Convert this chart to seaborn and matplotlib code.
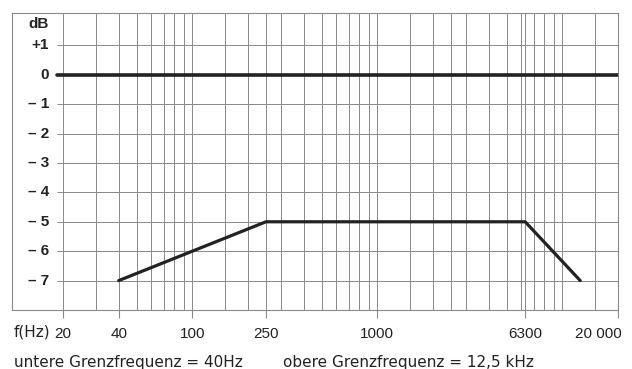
import matplotlib
matplotlib.use("Agg")
import matplotlib.pyplot as plt
import matplotlib.transforms as mtransforms
import seaborn as sns
import pandas as pd

# Frequency response (corner points)
freq_hz = [40, 250, 6300, 12500]
level_db = [-7, -5, -5, -7]

# y axis labels (dB)
y_ticks = [1, 0, -1, -2, -3, -4, -5, -6, -7]
y_labels = ["+1", "0", "– 1", "– 2", "– 3", "– 4", "– 5", "– 6", "– 7"]

# x axis labels (Hz)
x_ticks = [20, 40, 100, 250, 1000, 6300, 20000]
x_labels = ["20", "40", "100", "250", "1000", "6300", "20 000"]

# vertical lines of the chart paper
grid_freqs = [20, 30, 40, 50, 60, 70, 80, 90, 100,
              150, 200, 250, 300, 400, 500, 600, 700, 800, 900, 1000,
              1500, 2000, 2500, 3000, 4000, 5000, 6000, 6300, 7000, 8000, 9000, 10000,
              15000, 20000]

df = pd.DataFrame({"f": freq_hz, "dB": level_db})

sns.set_theme(style="white")
plt.rcParams["font.family"] = ["Liberation Sans", "DejaVu Sans"]

ink = "#222222"
grid_col = "#8a8a8a"

fig = plt.figure(figsize=(6.32, 3.69), dpi=100)
ax = fig.add_axes([12 / 632, 59 / 369, 606 / 632, 297 / 369])
ax.set_xscale("log")
ax.set_xlim(10.6, 20000)
ax.set_ylim(-8, 2.1)

# chart paper grid
for f in grid_freqs:
    ax.axvline(f, color=grid_col, lw=0.7, zorder=1)
ax.hlines(y_ticks, 18.6, 20000, color=grid_col, lw=0.7, zorder=1)

# 0 dB reference line
ax.axhline(0, xmin=(57 - 12) / 606, xmax=1, color=ink, lw=2.6, zorder=3)

# response curve
sns.lineplot(data=df, x="f", y="dB", ax=ax, color=ink, lw=2.3, zorder=4,
             sort=False, estimator=None)

ax.set_xlabel("")
ax.set_ylabel("")
ax.set_xticks(x_ticks)
ax.set_xticklabels(x_labels)
ax.minorticks_off()
ax.tick_params(axis="x", which="major", bottom=True, length=6, width=0.8,
               color=grid_col, pad=6, labelsize=11, labelcolor=ink)
ax.set_yticks([])
for s in ax.spines.values():
    s.set_color(grid_col)
    s.set_linewidth(0.8)

# last label sits left of its tick, as in the original
last = ax.get_xticklabels()[-1]
last.set_ha("right")
last.set_transform(last.get_transform() +
                   mtransforms.ScaledTranslation(4 / 100, 0, fig.dpi_scale_trans))

# y labels drawn inside the frame
trans = mtransforms.blended_transform_factory(ax.transAxes, ax.transData)
lab_x = (49 - 12) / 606
for v, t in zip(y_ticks, y_labels):
    ax.text(lab_x, v, t, transform=trans, ha="right", va="center",
            fontsize=11, color=ink, fontweight="bold")
ax.text(lab_x, 1.73, "dB", transform=trans, ha="right", va="center",
        fontsize=11, color=ink, fontweight="bold")

fig.text(14 / 632, 1 - 332 / 369, "f(Hz)", ha="left", va="center",
         fontsize=11, color=ink, family="DejaVu Sans")
fig.text(14 / 632, 1 - 362 / 369, "untere Grenzfrequenz = 40Hz",
         ha="left", va="center", fontsize=11, color=ink, family="DejaVu Sans")
fig.text(283 / 632, 1 - 362 / 369, "obere Grenzfrequenz = 12,5 kHz",
         ha="left", va="center", fontsize=11, color=ink, family="DejaVu Sans")

fig.savefig("out.png", dpi=100, facecolor="white")
